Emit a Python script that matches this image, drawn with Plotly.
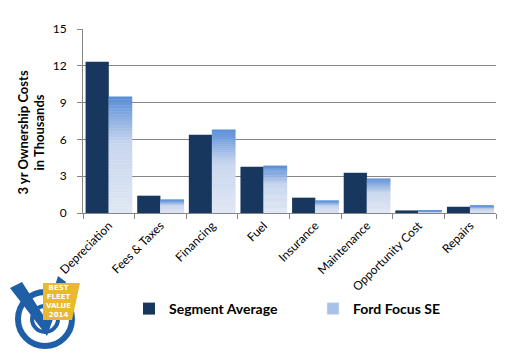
import plotly.graph_objects as go

categories = ["Depreciation", "Fees & Taxes", "Financing", "Fuel", "Insurance",
              "Maintenance", "Opportunity Cost", "Repairs"]
segment_avg = [12.33, 1.41, 6.38, 3.77, 1.25, 3.28, 0.21, 0.51]
ford_focus = [9.48, 1.08, 6.79, 3.85, 1.00, 2.80, 0.19, 0.60]
y_ticks = [0, 3, 6, 9, 12, 15]

W, H = 512, 353
L, R, T, B = 83, 496, 29, 213


def px(x):
    return (x - L) / (R - L)


def py(y):
    return (B - y) / (B - T)


xs = list(range(len(categories)))
fig = go.Figure()

fig.add_trace(go.Bar(
    x=xs, y=segment_avg, name="Segment Average",
    marker=dict(color="#17375e", line=dict(width=0)),
    offset=-0.45, width=0.45, showlegend=True,
))

# gradient for Ford bars: stacked slices from pale bottom to blue top
N = 40
top_c = (88, 141, 216)
bot_c = (224, 231, 244)
mid_c = (200, 214, 238)
for k in range(N):
    f = (k + 0.5) / N  # 0 bottom -> 1 top
    if f < 0.6:
        t = f / 0.6
        c = tuple(round(bot_c[i] + (mid_c[i] - bot_c[i]) * t) for i in range(3))
    else:
        t = (f - 0.6) / 0.4
        c = tuple(round(mid_c[i] + (top_c[i] - mid_c[i]) * t) for i in range(3))
    col = "rgb(%d,%d,%d)" % c
    fig.add_trace(go.Bar(
        x=xs, y=[v / N for v in ford_focus], base=[v * k / N for v in ford_focus],
        name="Ford Focus SE", marker=dict(color=col, line=dict(width=0.4, color=col)),
        offset=0, width=0.45, showlegend=False, hoverinfo="skip",
    ))

# legend proxy for Ford (gradient-ish colour)
fig.add_trace(go.Bar(
    x=[None], y=[None], name="Ford Focus SE",
    marker=dict(color="#a9c0e8"), showlegend=True,
))

shapes = []
annotations = []

# Y axis title
annotations.append(dict(
    text="<b>3 yr Ownership Costs<br>in Thousands</b>", xref="paper", yref="paper",
    x=px(31), y=py(132.5), textangle=-90, showarrow=False,
    font=dict(family="Lato", size=13, color="#000000"), xanchor="center", yanchor="middle",
))

# Logo approximation (decoration)
shapes.append(dict(type="circle", xref="paper", yref="paper",
                   x0=px(18), x1=px(72), y0=py(346), y1=py(292),
                   line=dict(color="#1f5fa8", width=6)))
shapes.append(dict(type="circle", xref="paper", yref="paper",
                   x0=px(32), x1=px(58), y0=py(332), y1=py(306),
                   line=dict(color="#1f5fa8", width=4)))
shapes.append(dict(type="path", xref="paper", yref="paper",
                   path="M %f,%f L %f,%f L %f,%f L %f,%f L %f,%f L %f,%f Z" % (
                       px(10), py(288), px(22), py(282), px(45), py(318),
                       px(58), py(276), px(66), py(282), px(47), py(336)),
                   fillcolor="#1f5fa8", line=dict(width=0)))
shapes.append(dict(type="path", xref="paper", yref="paper",
                   path="M %f,%f L %f,%f L %f,%f L %f,%f Z" % (
                       px(43), py(283), px(80), py(283), px(72), py(320), px(43), py(320)),
                   fillcolor="#e8b830", line=dict(width=0)))
annotations.append(dict(
    text="<b>BEST<br>FLEET<br>VALUE<br>2014</b>", xref="paper", yref="paper",
    x=px(58), y=py(301), showarrow=False, align="center",
    font=dict(family="DejaVu Sans", size=7, color="#ffffff"),
    xanchor="center", yanchor="middle",
))

fig.update_layout(
    width=W, height=H,
    margin=dict(l=L, r=W - R, t=T, b=H - B, pad=0, autoexpand=False),
    paper_bgcolor="white", plot_bgcolor="white",
    barmode="overlay",
    font=dict(family="Lato", color="#000000"),
    showlegend=True,
    legend=dict(orientation="h", x=px(129), y=py(293), xanchor="left", yanchor="top",
                font=dict(family="Lato", size=14, color="#000000", weight="bold"),
                entrywidth=139, itemwidth=30, traceorder="normal",
                bgcolor="rgba(0,0,0,0)"),
    shapes=shapes,
    annotations=annotations,
    xaxis=dict(
        range=[-0.5, len(categories) - 0.5], automargin=False,
        tickvals=xs, ticktext=categories, tickangle=-45,
        ticks="", showgrid=False, zeroline=False,
        showline=True, linecolor="#868686", linewidth=1,
        tickfont=dict(family="Lato", size=12, color="#000000"),
        minor=dict(tickvals=[i - 0.5 for i in range(len(categories) + 1)],
                   ticks="outside", ticklen=5, tickcolor="#868686", showgrid=False),
    ),
    yaxis=dict(
        range=[0, 15], tickvals=y_ticks, ticks="outside", ticklen=5, automargin=False,
        tickcolor="#868686", showgrid=True, gridcolor="#868686", gridwidth=1,
        zeroline=False, showline=True, linecolor="#868686", linewidth=1,
        ticklabelstandoff=8,
        tickfont=dict(family="Lato", size=12, color="#000000"),
    ),
)

fig.write_html("out.html")
